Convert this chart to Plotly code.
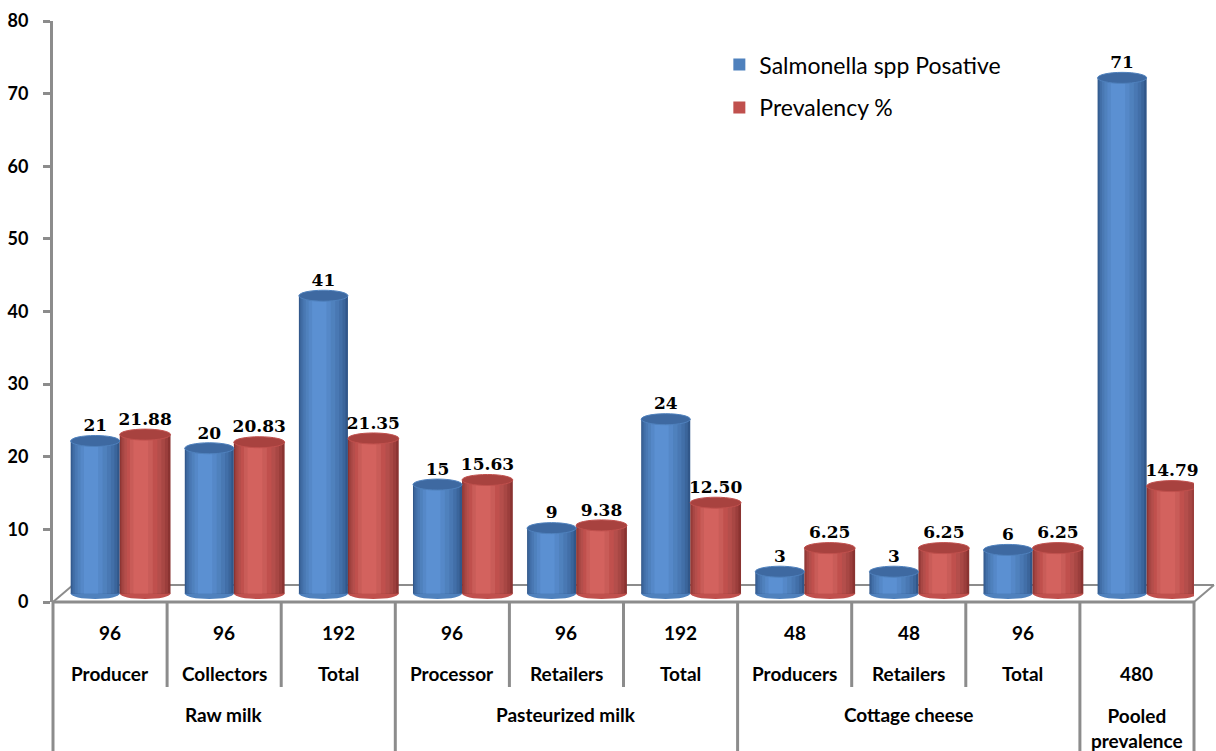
import plotly.graph_objects as go

# ---------------- data ----------------
sample_sizes = ["96", "96", "192", "96", "96", "192", "48", "48", "96", ""]
sub_labels = ["Producer", "Collectors", "Total", "Processor", "Retailers", "Total",
              "Producers", "Retailers", "Total", "480"]
groups = ["Raw milk", "Pasteurized milk", "Cottage cheese", "Pooled<br>prevalence"]
group_sizes = [3, 3, 3, 1]
positive = [21, 20, 41, 15, 9, 24, 3, 3, 6, 71]
prevalence = [21.88, 20.83, 21.35, 15.63, 9.38, 12.50, 6.25, 6.25, 6.25, 14.79]
y_ticks = [0, 10, 20, 30, 40, 50, 60, 70, 80]

# ---------------- layout constants ----------------
W, H = 1216, 751
ML, MR, MT, MB = 53, 22, 21, 149
PW, PH = W - ML - MR, H - MT - MB
YMAX = 80
PX_PER_UNIT = PH / YMAX
DEPTH_X, DEPTH_Y = 20, 17          # 3D floor depth (pixels)
BAR_SHIFT_Y = 8.5                  # bars sit at mid depth
GRID = "#8C8C8C"
n = len(sub_labels)


def py(pix):
    return pix / PH


def px(pix):
    return pix / PW


def mix(c1, c2, t):
    a = [int(c1[k:k + 2], 16) for k in (1, 3, 5)]
    b = [int(c2[k:k + 2], 16) for k in (1, 3, 5)]
    return "#" + "".join(f"{round(a[j] + (b[j] - a[j]) * t):02X}" for j in range(3))


series = [
    dict(name="Salmonella spp Posative", values=positive,
         labels=[str(v) for v in positive], offset=-0.345, width=0.43,
         dark="#31578A", light="#5B90D2", mid="#4F81BD", top="#3E69A1", group="a"),
    dict(name="Prevalency %", values=prevalence,
         labels=[f"{v:.2f}" for v in prevalence], offset=0.085, width=0.445,
         dark="#8A3331", light="#D3625E", mid="#C0504D", top="#A8423F", group="b"),
]
# nested shading strips (start, end) as fraction of bar width, from outer to inner
layers = [(0.0, 1.0), (0.02, 0.95), (0.05, 0.89), (0.09, 0.82), (0.14, 0.74),
          (0.2, 0.65), (0.27, 0.56)]
legend_layer = 4

fig = go.Figure()
# carrier for the visible value axis
fig.add_trace(go.Scatter(x=[None], y=[None], xaxis="x", yaxis="y",
                         showlegend=False, hoverinfo="skip"))
shapes = []
xs = list(range(n))
ry = 5.5 / PX_PER_UNIT

for s in series:
    for li, (st, en) in enumerate(layers):
        t = li / (len(layers) - 1)
        col = mix(s["dark"], s["light"], t ** 0.8)
        fig.add_trace(go.Bar(
            x=xs, y=s["values"], xaxis="x", yaxis="y2",
            offset=s["offset"] + st * s["width"], width=s["width"] * (en - st),
            marker=dict(color=col if li != legend_layer else s["mid"], line=dict(width=0)),
            name=s["name"], legendgroup=s["group"],
            showlegend=(li == legend_layer), hoverinfo="skip",
        ))
    for i, v in enumerate(s["values"]):
        x0 = i + s["offset"]
        x1 = x0 + s["width"]
        shapes.append(dict(type="circle", xref="x", yref="y2", x0=x0, x1=x1,
                           y0=-ry, y1=ry, fillcolor=s["mid"],
                           line=dict(width=0), layer="below"))
        shapes.append(dict(type="circle", xref="x", yref="y2", x0=x0, x1=x1,
                           y0=v - ry, y1=v + ry, fillcolor=s["top"],
                           line=dict(width=1, color=s["mid"]), layer="above"))
    fig.add_trace(go.Scatter(
        x=[i + s["offset"] + s["width"] / 2 for i in xs],
        y=[v + ry for v in s["values"]], xaxis="x", yaxis="y2",
        mode="text", text=s["labels"], textposition="top center",
        textfont=dict(family="DejaVu Serif", size=17, color="black", weight="bold"),
        showlegend=False, hoverinfo="skip", cliponaxis=False,
    ))

# ---------------- floor / table lines ----------------
bottom = py(-(H - MT - PH))
inner_bottom = py(-85)
shapes += [
    dict(type="line", xref="paper", yref="paper", x0=0, x1=1, y0=0, y1=0,
         line=dict(color=GRID, width=3), layer="below"),
    dict(type="line", xref="paper", yref="paper", x0=0, x1=px(DEPTH_X), y0=0, y1=py(DEPTH_Y),
         line=dict(color=GRID, width=2), layer="below"),
    dict(type="line", xref="paper", yref="paper", x0=px(DEPTH_X), x1=1 + px(DEPTH_X),
         y0=py(DEPTH_Y), y1=py(DEPTH_Y), line=dict(color=GRID, width=2), layer="below"),
    dict(type="line", xref="paper", yref="paper", x0=1, x1=1 + px(DEPTH_X), y0=0, y1=py(DEPTH_Y),
         line=dict(color=GRID, width=2), layer="below"),
]
group_bounds = [0]
for g in group_sizes:
    group_bounds.append(group_bounds[-1] + g)
for b in range(n + 1):
    xb = b / n
    yb = bottom if b in group_bounds else inner_bottom
    shapes.append(dict(type="line", xref="paper", yref="paper", x0=xb, x1=xb, y0=0, y1=yb,
                       line=dict(color=GRID, width=3)))

# ---------------- table text ----------------
lab_font = dict(family="Lato", size=19, color="black", weight="bold")
annotations = []
for i in range(n):
    if sample_sizes[i]:
        annotations.append(dict(x=i, y=0, xref="x", yref="paper", yshift=-30, text=sample_sizes[i],
                                showarrow=False, font=lab_font, yanchor="middle"))
    annotations.append(dict(x=i, y=0, xref="x", yref="paper", yshift=-71, text=sub_labels[i],
                            showarrow=False, font=lab_font, yanchor="middle"))
for gi, g in enumerate(groups):
    center = (group_bounds[gi] + group_bounds[gi + 1]) / 2 - 0.5
    shift = -126 if "<br>" in g else -112
    annotations.append(dict(x=center, y=0, xref="x", yref="paper", yshift=shift, text=g,
                            showarrow=False, font=lab_font, yanchor="middle"))

shift_units = BAR_SHIFT_Y / PX_PER_UNIT
fig.update_layout(
    width=W, height=H,
    margin=dict(l=ML, r=MR, t=MT, b=MB, pad=0, autoexpand=False),
    paper_bgcolor="white", plot_bgcolor="white",
    barmode="overlay",
    xaxis=dict(range=[-0.5, n - 0.5], showticklabels=False, showgrid=False,
               zeroline=False, showline=False, ticks="", automargin=False),
    yaxis=dict(range=[0, YMAX], tickvals=y_ticks, showgrid=False, zeroline=False,
               showline=True, linecolor=GRID, linewidth=3, ticks="outside",
               ticklen=7, tickwidth=3, tickcolor=GRID, ticklabelstandoff=11,
               automargin=False,
               tickfont=dict(family="Lato", size=18, color="black", weight="bold")),
    yaxis2=dict(range=[-shift_units, YMAX - shift_units], overlaying="y", visible=False),
    legend=dict(x=0.584, y=0.962, xanchor="left", yanchor="top",
                font=dict(family="Lato", size=23, color="black"),
                traceorder="grouped", tracegroupgap=10, bgcolor="rgba(0,0,0,0)"),
    shapes=shapes, annotations=annotations,
)

fig.write_html("out.html")
